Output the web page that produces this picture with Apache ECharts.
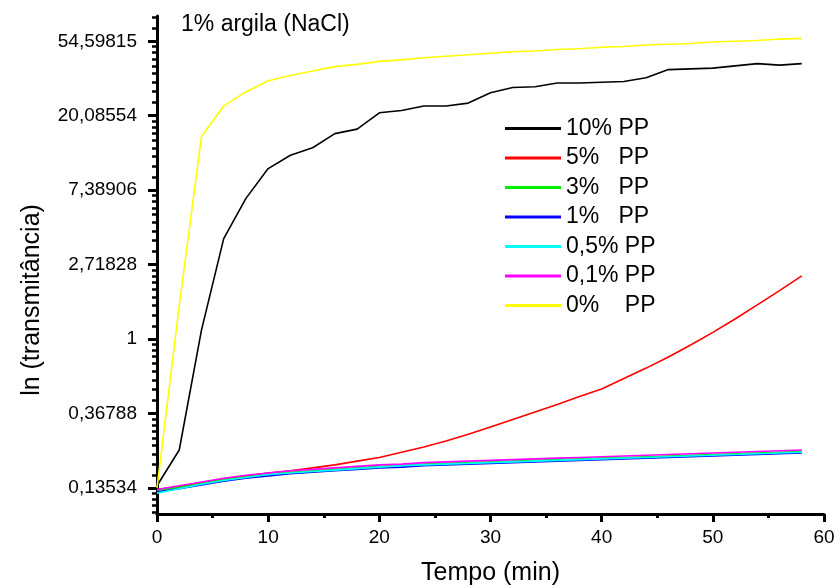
<!DOCTYPE html>
<html>
<head>
<meta charset="utf-8">
<script src="https://cdn.jsdelivr.net/npm/echarts@6/dist/echarts.min.js"></script>
<style>html,body{margin:0;padding:0;background:#fff}#c{width:840px;height:588px}</style>
</head>
<body>
<div id="c"></div>
<script>
// Time (min)
const times = [0,2,4,6,8,10,12,14,16,18,20,22,24,26,28,30,32,34,36,38,40,42,44,46,48,50,52,54,56,58];
// ln(transmittance) values
const pp10  = [-1.97,-1.49,0.12,1.35,1.89,2.29,2.47,2.57,2.76,2.82,3.04,3.07,3.13,3.13,3.17,3.31,3.38,3.39,3.44,3.44,3.45,3.46,3.51,3.62,3.63,3.64,3.67,3.70,3.68,3.70];
const pp5   = [-2.02,-1.98,-1.93,-1.88,-1.84,-1.80,-1.77,-1.73,-1.69,-1.64,-1.59,-1.52,-1.45,-1.37,-1.28,-1.18,-1.08,-0.98,-0.88,-0.77,-0.67,-0.53,-0.39,-0.24,-0.08,0.09,0.27,0.46,0.65,0.85];
const pp3   = [-2.03,-1.99,-1.94,-1.89,-1.85,-1.82,-1.79,-1.77,-1.75,-1.73,-1.71,-1.70,-1.68,-1.67,-1.66,-1.65,-1.64,-1.63,-1.62,-1.61,-1.60,-1.59,-1.58,-1.57,-1.56,-1.55,-1.54,-1.53,-1.52,-1.51];
const pp1   = [-2.05,-2.01,-1.96,-1.91,-1.87,-1.84,-1.81,-1.79,-1.77,-1.75,-1.73,-1.72,-1.70,-1.69,-1.68,-1.67,-1.66,-1.65,-1.64,-1.63,-1.62,-1.61,-1.60,-1.59,-1.58,-1.57,-1.56,-1.55,-1.54,-1.53];
const pp05  = [-2.07,-2.01,-1.95,-1.90,-1.86,-1.82,-1.80,-1.78,-1.76,-1.74,-1.72,-1.70,-1.69,-1.68,-1.67,-1.66,-1.65,-1.64,-1.63,-1.62,-1.61,-1.60,-1.59,-1.58,-1.57,-1.56,-1.55,-1.54,-1.53,-1.52];
const pp01  = [-2.02,-1.97,-1.92,-1.87,-1.83,-1.80,-1.77,-1.75,-1.73,-1.71,-1.69,-1.68,-1.66,-1.65,-1.64,-1.63,-1.62,-1.61,-1.60,-1.59,-1.58,-1.57,-1.56,-1.55,-1.54,-1.53,-1.52,-1.51,-1.50,-1.49];
const pp0   = [-2.00,0.45,2.72,3.13,3.32,3.47,3.54,3.60,3.66,3.69,3.73,3.75,3.78,3.80,3.82,3.84,3.86,3.87,3.89,3.90,3.92,3.93,3.95,3.96,3.97,3.99,4.00,4.01,4.03,4.04];
// Y tick positions (ln units) -> labels e^k
const yTicks = [-2,-1,0,1,2,3,4];
const names = ['10% PP','5%   PP','3%   PP','1%   PP','0,5% PP','0,1% PP','0%    PP'];
const colors = ['#000000','#ff0000','#00ee00','#0000ff','#00ffff','#ff00ff','#ffff00'];
const seriesVals = [pp10,pp5,pp3,pp1,pp05,pp01,pp0];

const yMin = -2.35, yMax = 4.34;
// minor ticks: linear subdivision (9 parts) between e^k and e^(k+1)
const minorTicks = [];
for (let k = -3; k <= 4; k++) {
  for (let j = 1; j <= 8; j++) {
    const v = k + Math.log(1 + j * (Math.E - 1) / 9);
    if (v > yMin && v < yMax) minorTicks.push(v);
  }
}
const FONT = 'Liberation Sans, Arial, sans-serif';
const chart = echarts.init(document.getElementById('c'));
const series = seriesVals.map((vals, i) => ({
  name: names[i],
  type: 'line',
  data: times.map((t, k) => [t, vals[k]]),
  showSymbol: false,
  symbol: 'none',
  lineStyle: { color: colors[i], width: 1.6 },
  itemStyle: { color: colors[i] },
  z: 3,
  animation: false
}));
chart.setOption({
  animation: false,
  backgroundColor: '#fff',
  title: {
    text: '1% argila (NaCl)', left: 176, top: 8,
    textStyle: { fontFamily: FONT, fontSize: 23, fontWeight: 'normal', color: '#000' }
  },
  legend: {
    orient: 'vertical', left: 500, top: 112,
    itemWidth: 56, itemHeight: 3, itemGap: 6.5,
    icon: 'rect',
    data: names,
    textStyle: { fontFamily: FONT, fontSize: 23, color: '#000', lineHeight: 23 }
  },
  graphic: [{
    type: 'text', x: 32, y: 300, rotation: Math.PI / 2,
    style: { text: 'ln (transmitância)', font: '25px ' + FONT, fill: '#000', textAlign: 'center', textVerticalAlign: 'middle' }
  }],
  grid: { left: 157, right: 16, top: 16, bottom: 74, containLabel: false, outerBoundsMode: 'none' },
  xAxis: {
    type: 'value', min: 0, max: 60, interval: 10,
    name: 'Tempo (min)', nameLocation: 'middle', nameGap: 47,
    nameTextStyle: { fontFamily: FONT, fontSize: 25, color: '#000' },
    axisLine: { onZero: false, lineStyle: { color: '#000', width: 3 } },
    axisTick: { inside: false, length: 8, lineStyle: { color: '#000', width: 3 } },
    minorTick: { show: true, splitNumber: 2, length: 4, lineStyle: { color: '#000', width: 3 } },
    axisLabel: { fontFamily: FONT, fontSize: 19, color: '#000', margin: 14 },
    splitLine: { show: false }
  },
  yAxis: [{
    type: 'value', min: yMin, max: yMax,
    axisLine: { onZero: false, lineStyle: { color: '#000', width: 3 } },
    axisTick: { inside: false, length: 9, customValues: yTicks, lineStyle: { color: '#000', width: 3 } },
    axisLabel: {
      fontFamily: FONT, fontSize: 19, color: '#000', margin: 20,
      customValues: yTicks,
      formatter: v => Math.abs(v) < 1e-9 ? '1' : Math.exp(v).toFixed(5).replace('.', ',')
    },
    splitLine: { show: false }
  }, {
    type: 'value', min: yMin, max: yMax, position: 'left', offset: 0,
    axisLine: { show: false },
    axisTick: { show: true, inside: false, length: 5, customValues: minorTicks, lineStyle: { color: '#000', width: 2.5 } },
    axisLabel: { show: false, customValues: minorTicks },
    splitLine: { show: false }
  }],
  series: series
});
</script>
</body>
</html>
